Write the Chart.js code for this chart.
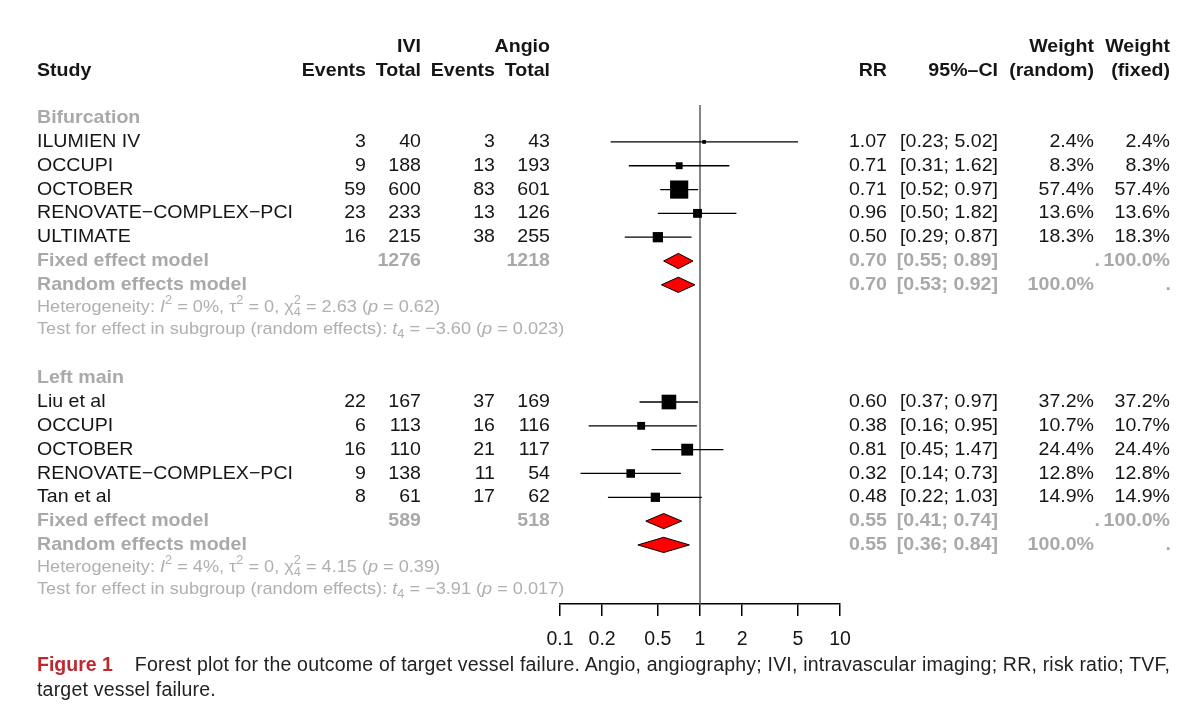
<!DOCTYPE html>
<html><head><meta charset="utf-8">
<script src="https://cdn.jsdelivr.net/npm/chart.js@4.4.1/dist/chart.umd.min.js"></script>
<style>
html,body{margin:0;padding:0;background:#fff;}
#wrap{position:absolute;left:0;top:0;width:1179px;height:718px;}
#cap{position:absolute;left:37px;top:652px;font-family:"Liberation Sans",Arial,sans-serif;font-size:19.5px;letter-spacing:0.2px;line-height:25px;color:#222;white-space:nowrap;}
#cap b{color:#c0282e;font-weight:bold;margin-right:22px;letter-spacing:0;}
</style></head><body>
<div id="wrap"><canvas id="c"></canvas></div>
<div id="cap"><b>Figure 1</b>Forest plot for the outcome of target vessel failure. Angio, angiography; IVI, intravascular imaging; RR, risk ratio; TVF,<br>target vessel failure.</div>
<script>
// ---- data ----
const groupNames = ['Bifurcation', 'Left main'];
const studies1 = ['ILUMIEN IV', 'OCCUPI', 'OCTOBER', 'RENOVATE\u2212COMPLEX\u2212PCI', 'ULTIMATE'];
const iviEvents1 = [3, 9, 59, 23, 16];
const iviTotal1 = [40, 188, 600, 233, 215];
const angioEvents1 = [3, 13, 83, 13, 38];
const angioTotal1 = [43, 193, 601, 126, 255];
const rr1 = [1.07, 0.71, 0.71, 0.96, 0.50];
const ciLow1 = [0.23, 0.31, 0.52, 0.50, 0.29];
const ciHigh1 = [5.02, 1.62, 0.97, 1.82, 0.87];
const wRandom1 = [2.4, 8.3, 57.4, 13.6, 18.3];
const wFixed1 = [2.4, 8.3, 57.4, 13.6, 18.3];

const studies2 = ['Liu et al', 'OCCUPI', 'OCTOBER', 'RENOVATE\u2212COMPLEX\u2212PCI', 'Tan et al'];
const iviEvents2 = [22, 6, 16, 9, 8];
const iviTotal2 = [167, 113, 110, 138, 61];
const angioEvents2 = [37, 16, 21, 11, 17];
const angioTotal2 = [169, 116, 117, 54, 62];
const rr2 = [0.60, 0.38, 0.81, 0.32, 0.48];
const ciLow2 = [0.37, 0.16, 0.45, 0.14, 0.22];
const ciHigh2 = [0.97, 0.95, 1.47, 0.73, 1.03];
const wRandom2 = [37.2, 10.7, 24.4, 12.8, 14.9];
const wFixed2 = [37.2, 10.7, 24.4, 12.8, 14.9];

const iviTotalSum = [1276, 589];
const angioTotalSum = [1218, 518];
const fixedRR = [0.70, 0.55];
const fixedLow = [0.55, 0.41];
const fixedHigh = [0.89, 0.74];
const randomRR = [0.70, 0.55];
const randomLow = [0.53, 0.36];
const randomHigh = [0.92, 0.84];
const hetI2 = [0, 4];
const hetTau2 = [0, 0];
const hetChi2 = [2.63, 4.15];
const hetDf = [4, 4];
const hetP = [0.62, 0.39];
const testT = [-3.60, -3.91];
const testP = [0.023, 0.017];

const xTicks = [0.1, 0.2, 0.5, 1, 2, 5, 10];
const xTickLabels = ['0.1', '0.2', '0.5', '1', '2', '5', '10'];

// ---- layout / style ----
const FONT = '"Liberation Sans", Arial, Helvetica, sans-serif';
const FS = 18.5, SX = 1.058;
const FS_SMALL = 17, SX_SMALL = 1.067;
const BLACK = '#151515', GRAY = '#a9a9a9', GRAY_LIGHT = '#b0b0b0';
const Y_MIN = -0.55, Y_MAX = 20.4;
const groupBase = [0, 10.92];
const BOX_SCALE = 2.4;
const DIAMOND_H = 0.32;

const groups = [
  {names: studies1, ie: iviEvents1, it: iviTotal1, ae: angioEvents1, at: angioTotal1, rr: rr1, lo: ciLow1, hi: ciHigh1, wr: wRandom1, wf: wFixed1},
  {names: studies2, ie: iviEvents2, it: iviTotal2, ae: angioEvents2, at: angioTotal2, rr: rr2, lo: ciLow2, hi: ciHigh2, wr: wRandom2, wf: wFixed2}
];

const boxPoints = [], boxRadius = [], ciSets = [], diamondSets = [];
groups.forEach((g, gi) => {
  const b = groupBase[gi];
  g.rr.forEach((v, i) => {
    const row = b + 1 + i;
    boxPoints.push({x: v, y: row});
    boxRadius.push(BOX_SCALE * Math.sqrt(g.wf[i]) / Math.SQRT2);
    ciSets.push({type: 'line', data: [{x: g.lo[i], y: row}, {x: g.hi[i], y: row}], borderColor: '#000', borderWidth: 1.3, pointRadius: 0, fill: false, order: 2});
  });
  [[fixedRR, fixedLow, fixedHigh, 6], [randomRR, randomLow, randomHigh, 7]].forEach(([e, l, h, off]) => {
    const r = b + off;
    diamondSets.push({type: 'line', data: [{x: l[gi], y: r}, {x: e[gi], y: r - DIAMOND_H}, {x: h[gi], y: r}, {x: e[gi], y: r + DIAMOND_H}, {x: l[gi], y: r}],
      borderColor: '#000', borderWidth: 1, backgroundColor: '#ff0000', fill: 'shape', pointRadius: 0, tension: 0, order: 1});
  });
});

const datasets = [
  {type: 'scatter', data: boxPoints, pointStyle: 'rect', pointRadius: boxRadius, backgroundColor: '#000', borderColor: '#000', borderWidth: 0, order: 0},
  ...diamondSets,
  ...ciSets,
  {type: 'line', data: [{x: 1, y: Y_MIN}, {x: 1, y: Y_MAX}], borderColor: '#5e5e5e', borderWidth: 1.5, pointRadius: 0, fill: false, order: 3}
];

function fmt2(v) { return v.toFixed(2); }
function minus(v, d) { return (v < 0 ? '\u2212' : '') + Math.abs(v).toFixed(d); }

function rich(ctx, segs, x, yc, size, sx, color) {
  ctx.save();
  ctx.translate(x, yc); ctx.scale(sx, 1);
  let cx = 0;
  ctx.fillStyle = color; ctx.textAlign = 'left'; ctx.textBaseline = 'middle';
  const small = Math.round(size * 0.68);
  for (const s of segs) {
    const t = s[0], k = s[1] || 'n';
    if (k === 'n' || k === 'i') {
      ctx.font = (k === 'i' ? 'italic ' : '') + size + 'px ' + FONT;
      ctx.fillText(t, cx, 0); cx += ctx.measureText(t).width;
    } else if (k === 'sup') {
      ctx.font = small + 'px ' + FONT;
      ctx.fillText(t, cx, -size * 0.4); cx += ctx.measureText(t).width;
    } else if (k === 'sub') {
      ctx.font = small + 'px ' + FONT;
      ctx.fillText(t, cx, size * 0.3); cx += ctx.measureText(t).width;
    } else if (k === 'supsub') {
      ctx.font = small + 'px ' + FONT;
      ctx.fillText(t[0], cx, -size * 0.4);
      ctx.fillText(t[1], cx, size * 0.3);
      cx += Math.max(ctx.measureText(t[0]).width, ctx.measureText(t[1]).width);
    }
  }
  ctx.restore();
}

const textPlugin = {
  id: 'forestText',
  afterDraw(chart) {
    const ctx = chart.ctx, ys = chart.scales.y;
    const Y = r => ys.getPixelForValue(r);
    const T = (s, x, row, align, color, bold) => {
      ctx.save();
      ctx.font = (bold ? 'bold ' : '') + FS + 'px ' + FONT;
      ctx.fillStyle = color; ctx.textAlign = align; ctx.textBaseline = 'middle';
      ctx.translate(x, Y(row)); ctx.scale(SX, 1);
      ctx.fillText(s, 0, 0);
      ctx.restore();
    };
    // headers
    T('IVI', 421, -3, 'right', BLACK, true);
    T('Angio', 550, -3, 'right', BLACK, true);
    T('Study', 37, -2, 'left', BLACK, true);
    T('Events', 366, -2, 'right', BLACK, true);
    T('Total', 421, -2, 'right', BLACK, true);
    T('Events', 495, -2, 'right', BLACK, true);
    T('Total', 550, -2, 'right', BLACK, true);
    T('RR', 887, -2, 'right', BLACK, true);
    T('95%\u2013CI', 998, -2, 'right', BLACK, true);
    T('Weight', 1094, -3, 'right', BLACK, true);
    T('Weight', 1170, -3, 'right', BLACK, true);
    T('(random)', 1094, -2, 'right', BLACK, true);
    T('(fixed)', 1170, -2, 'right', BLACK, true);
    groups.forEach((g, gi) => {
      const b = groupBase[gi];
      T(groupNames[gi], 37, b, 'left', GRAY, true);
      g.names.forEach((n, i) => {
        const r = b + 1 + i;
        T(n, 37, r, 'left', BLACK);
        T(String(g.ie[i]), 366, r, 'right', BLACK);
        T(String(g.it[i]), 421, r, 'right', BLACK);
        T(String(g.ae[i]), 495, r, 'right', BLACK);
        T(String(g.at[i]), 550, r, 'right', BLACK);
        T(fmt2(g.rr[i]), 887, r, 'right', BLACK);
        T('[' + fmt2(g.lo[i]) + '; ' + fmt2(g.hi[i]) + ']', 998, r, 'right', BLACK);
        T(g.wr[i].toFixed(1) + '%', 1094, r, 'right', BLACK);
        T(g.wf[i].toFixed(1) + '%', 1170, r, 'right', BLACK);
      });
      const rf = b + 6, rrn = b + 7;
      T('Fixed effect model', 37, rf, 'left', GRAY, true);
      T(String(iviTotalSum[gi]), 421, rf, 'right', GRAY, true);
      T(String(angioTotalSum[gi]), 550, rf, 'right', GRAY, true);
      T(fmt2(fixedRR[gi]), 887, rf, 'right', GRAY, true);
      T('[' + fmt2(fixedLow[gi]) + '; ' + fmt2(fixedHigh[gi]) + ']', 998, rf, 'right', GRAY, true);
      T('.', 1100, rf, 'right', GRAY, true);
      T('100.0%', 1170, rf, 'right', GRAY, true);
      T('Random effects model', 37, rrn, 'left', GRAY, true);
      T(fmt2(randomRR[gi]), 887, rrn, 'right', GRAY, true);
      T('[' + fmt2(randomLow[gi]) + '; ' + fmt2(randomHigh[gi]) + ']', 998, rrn, 'right', GRAY, true);
      T('100.0%', 1094, rrn, 'right', GRAY, true);
      T('.', 1171, rrn, 'right', GRAY, true);
      rich(ctx, [['Heterogeneity: '], ['I', 'i'], ['2', 'sup'], [' = ' + hetI2[gi] + '%, \u03c4'], ['2', 'sup'], [' = ' + hetTau2[gi] + ', \u03c7'], [['2', String(hetDf[gi])], 'supsub'], [' = ' + fmt2(hetChi2[gi]) + ' ('], ['p', 'i'], [' = ' + fmt2(hetP[gi]) + ')']],
        37, Y(b + 7.95), FS_SMALL, SX_SMALL, GRAY_LIGHT);
      rich(ctx, [['Test for effect in subgroup (random effects): '], ['t', 'i'], [String(hetDf[gi]), 'sub'], [' = ' + minus(testT[gi], 2) + ' ('], ['p', 'i'], [' = ' + testP[gi].toFixed(3) + ')']],
        37, Y(b + 8.87), FS_SMALL, SX_SMALL, GRAY_LIGHT);
    });
  }
};

new Chart(document.getElementById('c'), {
  type: 'scatter',
  data: {datasets},
  options: {
    responsive: true, maintainAspectRatio: false, animation: false,
    layout: {padding: {left: 560, right: 339, top: 105, bottom: 54}},
    plugins: {legend: {display: false}, tooltip: {enabled: false}},
    scales: {
      x: {
        type: 'logarithmic', min: 0.1, max: 10,
        afterBuildTicks: s => { s.ticks = xTicks.map(v => ({value: v})); },
        afterFit: s => { s.height = 60; },
        ticks: {autoSkip: false, maxRotation: 0, padding: 12, color: BLACK, font: {family: FONT, size: 19.5},
          callback: v => { const i = xTicks.indexOf(v); return i >= 0 ? xTickLabels[i] : ''; }},
        grid: {display: true, drawOnChartArea: false, drawTicks: true, tickLength: 12, color: '#000', tickColor: '#000', lineWidth: 1.5, tickWidth: 1.5},
        border: {display: true, color: '#000', width: 1.5}
      },
      y: {type: 'linear', reverse: true, min: Y_MIN, max: Y_MAX, display: false}
    }
  },
  plugins: [textPlugin]
});
</script>
</body></html>
